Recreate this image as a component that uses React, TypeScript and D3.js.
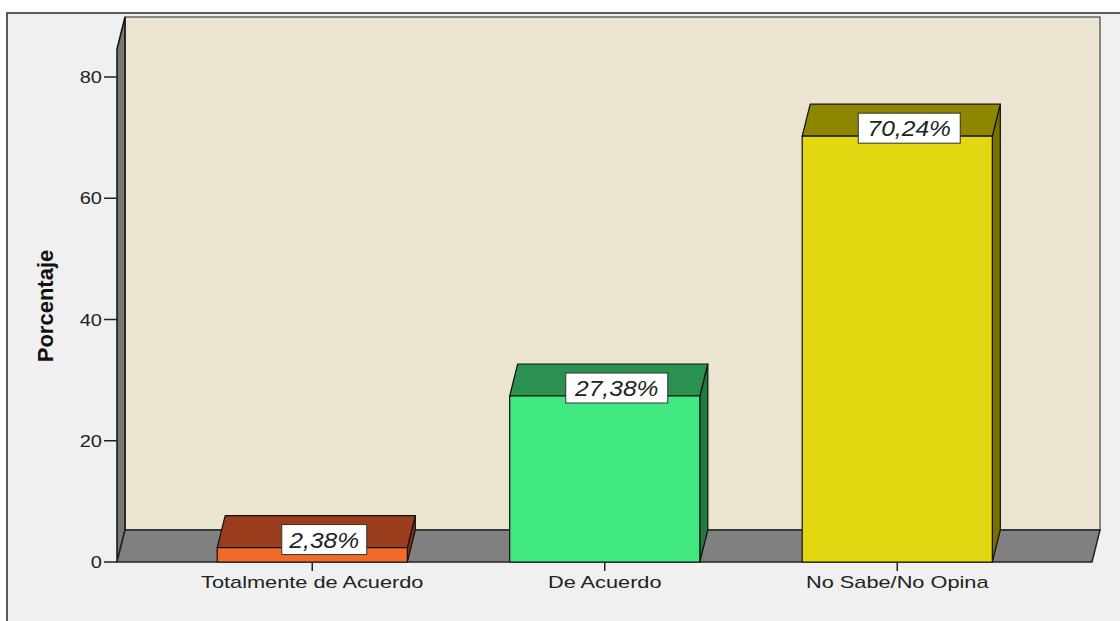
import React from "react";
import * as d3 from "d3";

const categories = ["Totalmente de Acuerdo", "De Acuerdo", "No Sabe/No Opina"];
const values = [2.38, 27.38, 70.24];
const valueLabels = ["2,38%", "27,38%", "70,24%"];
const yTicks = [0, 20, 40, 60, 80];
const frontColors = ["#F26A2A", "#41E880", "#E3D712"];
const topColors = ["#9A3D1C", "#2A9150", "#8E8500"];
const sideColors = ["#7E3015", "#207A42", "#787000"];

const W = 1120;
const H = 621;
const DX = 8;
const DY = -32;
const FLOOR_Y = 562;
const LEFT_X = 117;
const RIGHT_X = 1092;
const WALL_TOP_FRONT = 49;
const FONT = "'Liberation Sans', Arial, sans-serif";

export default function App() {
  const y = d3.scaleLinear().domain([0, 80]).range([FLOOR_Y, 77]);
  const x = d3
    .scaleBand<string>()
    .domain(categories)
    .range([166, 1043.5])
    .paddingInner(0.35)
    .paddingOuter(0.175);
  const bw = x.bandwidth();

  const pts = (arr: [number, number][]) => arr.map((p) => p.join(",")).join(" ");

  return (
    <div style={{ position: "absolute", left: 0, top: 0 }}>
      <svg width={W} height={H} style={{ display: "block" }}>
        <rect x={0} y={0} width={W} height={H} fill="#FFFFFF" />
        <rect x={7} y={13} width={W + 10} height={H + 10} fill="#F0F0F0" stroke="#5a5a5a" strokeWidth={2} />

        {/* back wall */}
        <rect
          x={LEFT_X + DX}
          y={WALL_TOP_FRONT + DY}
          width={RIGHT_X - LEFT_X}
          height={FLOOR_Y - WALL_TOP_FRONT}
          fill="#EAE4D0"
          stroke="#222"
          strokeWidth={1}
        />
        {/* left wall */}
        <polygon
          points={pts([
            [LEFT_X, WALL_TOP_FRONT],
            [LEFT_X + DX, WALL_TOP_FRONT + DY],
            [LEFT_X + DX, FLOOR_Y + DY],
            [LEFT_X, FLOOR_Y],
          ])}
          fill="#777"
          stroke="#111"
          strokeWidth={1.5}
        />
        {/* floor */}
        <polygon
          points={pts([
            [LEFT_X, FLOOR_Y],
            [LEFT_X + DX, FLOOR_Y + DY],
            [RIGHT_X + DX, FLOOR_Y + DY],
            [RIGHT_X, FLOOR_Y],
          ])}
          fill="#808080"
          stroke="#222"
          strokeWidth={1.5}
        />

        {/* bars */}
        {categories.map((c, i) => {
          const x0 = x(c)!;
          const top = y(values[i]);
          return (
            <g key={c} stroke="#111" strokeWidth={1.2} strokeLinejoin="round">
              <polygon
                points={pts([
                  [x0 + bw, top],
                  [x0 + bw + DX, top + DY],
                  [x0 + bw + DX, FLOOR_Y + DY],
                  [x0 + bw, FLOOR_Y],
                ])}
                fill={sideColors[i]}
              />
              <polygon
                points={pts([
                  [x0, top],
                  [x0 + DX, top + DY],
                  [x0 + bw + DX, top + DY],
                  [x0 + bw, top],
                ])}
                fill={topColors[i]}
              />
              <rect x={x0} y={top} width={bw} height={FLOOR_Y - top} fill={frontColors[i]} />
            </g>
          );
        })}

        {/* value labels */}
        {categories.map((c, i) => {
          const cx = x(c)! + bw / 2 + 12;
          const cy = y(values[i]) - 8;
          const bwid = valueLabels[i].length * 17;
          return (
            <g key={"lab" + c}>
              <rect x={cx - bwid / 2} y={cy - 15} width={bwid} height={30} fill="#FFFFFF" stroke="#333" strokeWidth={1} />
              <text
                transform={`translate(${cx},${cy + 8}) scale(1.12,1)`}
                textAnchor="middle"
                fontFamily={FONT}
                fontStyle="italic"
                fontSize={22}
                fill="#222"
              >
                {valueLabels[i]}
              </text>
            </g>
          );
        })}

        {/* y axis ticks */}
        {yTicks.map((t) => (
          <g key={"yt" + t}>
            <line x1={104} x2={LEFT_X} y1={y(t)} y2={y(t)} stroke="#222" strokeWidth={1.5} />
            <text
              transform={`translate(102,${y(t) + 6}) scale(1.25,1)`}
              textAnchor="end"
              fontFamily={FONT}
              fontSize={16}
              fill="#222"
            >
              {t}
            </text>
          </g>
        ))}

        {/* x axis ticks */}
        {categories.map((c) => {
          const cx = x(c)! + bw / 2;
          return (
            <g key={"xt" + c}>
              <line x1={cx} x2={cx} y1={FLOOR_Y} y2={571} stroke="#222" strokeWidth={1.5} />
              <text
                transform={`translate(${cx},588) scale(1.36,1)`}
                textAnchor="middle"
                fontFamily={FONT}
                fontSize={16}
                fill="#222"
              >
                {c}
              </text>
            </g>
          );
        })}

        {/* y axis title */}
        <text
          transform="translate(53,306) rotate(-90)"
          textAnchor="middle"
          fontFamily={FONT}
          fontWeight="bold"
          fontSize={22}
          fill="#111"
        >
          Porcentaje
        </text>
      </svg>
    </div>
  );
}
